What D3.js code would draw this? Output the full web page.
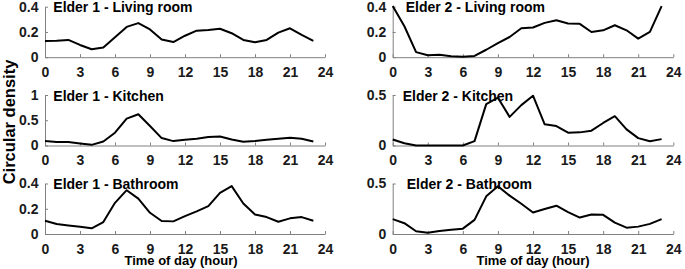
<!DOCTYPE html>
<html>
<head>
<meta charset="utf-8">
<script src="https://cdn.jsdelivr.net/npm/d3@7"></script>
<style>
  body { margin: 0; background: #fff; }
  svg { display: block; font-family: "Liberation Sans", Arial, sans-serif; font-weight: bold; }
  .axis path, .axis line { stroke: #808080; stroke-width: 1; }
  .axis text { fill: #1a1a1a; font-size: 14px; font-weight: bold; font-family: "Liberation Sans", Arial, sans-serif; }
</style>
</head>
<body>
<div id="chart-area"></div>
<script>
// hour of day, 0..23
const hours = [0,1,2,3,4,5,6,7,8,9,10,11,12,13,14,15,16,17,18,19,20,21,22,23];
const xTicks = [0,3,6,9,12,15,18,21,24];

const elder1Living   = [0.129,0.130,0.137,0.097,0.063,0.076,0.158,0.240,0.270,0.220,0.140,0.120,0.170,0.210,0.215,0.225,0.190,0.137,0.118,0.137,0.195,0.229,0.176,0.129];
const elder2Living   = [0.405,0.245,0.040,0.016,0.019,0.008,0.003,0.010,0.059,0.112,0.160,0.229,0.235,0.272,0.293,0.267,0.264,0.200,0.213,0.253,0.213,0.147,0.200,0.405];
const elder1Kitchen  = [0.087,0.067,0.067,0.040,0.013,0.080,0.253,0.533,0.620,0.387,0.147,0.087,0.113,0.133,0.167,0.180,0.120,0.073,0.087,0.113,0.133,0.153,0.133,0.080];
const elder2Kitchen  = [0.060,0.023,0.000,0.000,0.000,0.000,0.000,0.043,0.410,0.473,0.283,0.400,0.493,0.210,0.193,0.127,0.130,0.147,0.223,0.290,0.160,0.073,0.043,0.063];
const elder1Bathroom = [0.105,0.079,0.068,0.058,0.045,0.095,0.247,0.347,0.280,0.168,0.103,0.100,0.142,0.179,0.221,0.326,0.379,0.242,0.155,0.134,0.097,0.124,0.134,0.105];
const elder2Bathroom = [0.147,0.107,0.027,0.013,0.030,0.043,0.053,0.140,0.373,0.473,0.380,0.300,0.213,0.247,0.280,0.217,0.163,0.193,0.190,0.113,0.063,0.073,0.100,0.147];

const panelTitles = ["Elder 1 - Living room","Elder 2 - Living room","Elder 1 - Kitchen","Elder 2 - Kitchen","Elder 1 - Bathroom","Elder 2 - Bathroom"];
const panelSeries = [elder1Living, elder2Living, elder1Kitchen, elder2Kitchen, elder1Bathroom, elder2Bathroom];
const panelYMax = [0.4, 0.4, 1, 0.5, 0.4, 0.5];
const panelYTicks = [[0,0.2,0.4],[0,0.2,0.4],[0,0.5,1],[0,0.5],[0,0.2,0.4],[0,0.5]];

const yLabel = "Circular density";
const xLabel = "Time of day (hour)";

// layout (pixels)
const colLeft = [45, 392.7];
const colWidth = [280, 280.6];
const rowTop = [6.7, 95, 183.5];
const rowHeight = 50.5;
const titleOffset = [8.3, 13, 8.3, 10, 8.3, 14];

const svg = d3.select("#chart-area").append("svg")
    .attr("width", 685)
    .attr("height", 269);

panelSeries.forEach((series, i) => {
    let col = i % 2, row = Math.floor(i / 2);
    let g = svg.append("g")
        .attr("transform", "translate(" + colLeft[col] + "," + rowTop[row] + ")");

    let x = d3.scaleLinear().domain([0, 24]).range([0, colWidth[col]]);
    let y = d3.scaleLinear().domain([0, panelYMax[i]]).range([rowHeight, 0]);

    g.append("text")
        .attr("x", titleOffset[i])
        .attr("y", 5.5)
        .attr("font-size", 14)
        .attr("fill", "#000")
        .text(panelTitles[i]);

    g.append("g")
        .attr("class", "axis")
        .attr("transform", "translate(0," + rowHeight + ")")
        .call(d3.axisBottom(x).tickValues(xTicks).tickFormat(d3.format("d"))
            .tickSizeInner(-3).tickSizeOuter(0).tickPadding(10));

    g.append("g")
        .attr("class", "axis")
        .call(d3.axisLeft(y).tickValues(panelYTicks[i]).tickFormat(d => d === 0 ? "0" : (d === 1 ? "1" : d3.format(".1f")(d)))
            .tickSizeInner(-3).tickSizeOuter(0).tickPadding(6.5));

    g.append("path")
        .datum(series)
        .attr("fill", "none")
        .attr("stroke", "#000")
        .attr("stroke-width", 2)
        .attr("stroke-linejoin", "round")
        .attr("d", d3.line().x((d, j) => x(hours[j])).y(d => y(d)));
});

svg.append("text")
    .attr("transform", "translate(15,122) rotate(-90)")
    .attr("text-anchor", "middle")
    .attr("font-size", 16.5)
    .text(yLabel);

[181, 533].forEach(cx => {
    svg.append("text")
        .attr("x", cx)
        .attr("y", 265)
        .attr("text-anchor", "middle")
        .attr("font-size", 13)
        .text(xLabel);
});
</script>
</body>
</html>
